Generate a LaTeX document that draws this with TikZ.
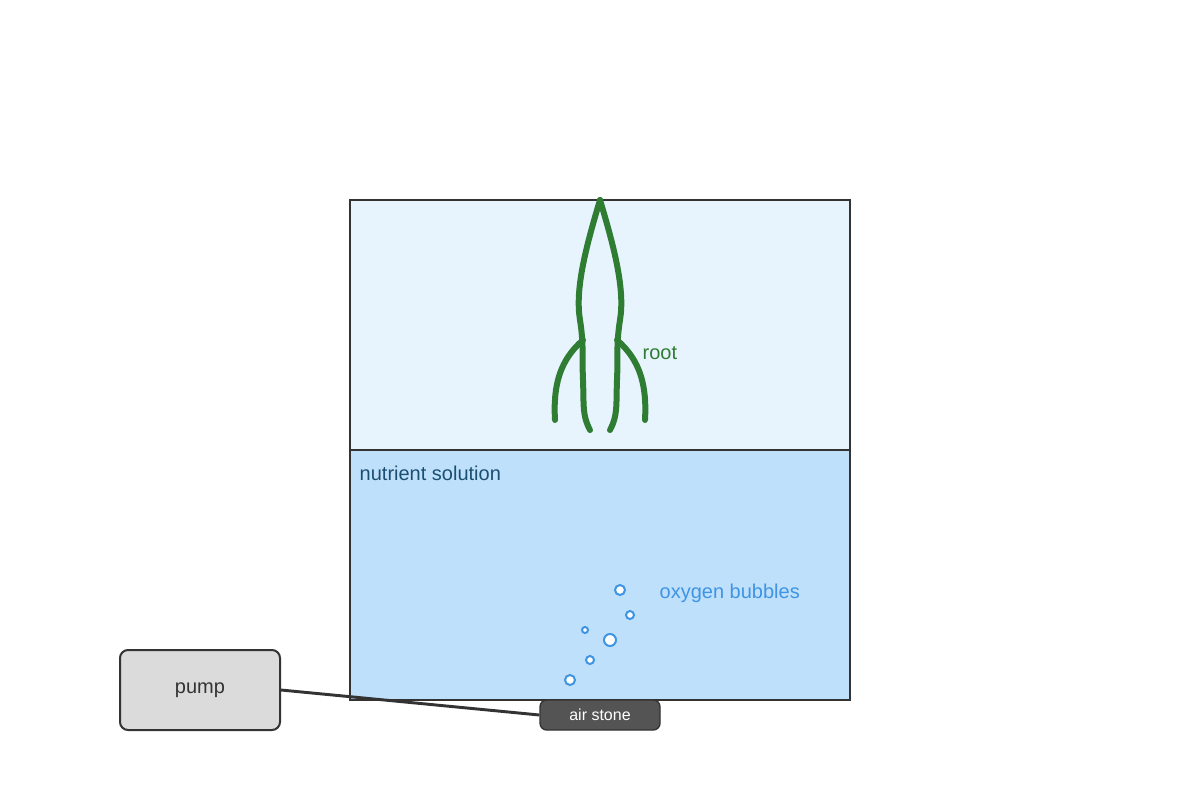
\documentclass[tikz,border=0pt]{standalone}
\usepackage{fontspec}
\setmainfont{Liberation Sans}
\begin{document}
\begin{tikzpicture}[x=0.75pt,y=-0.75pt,
  root/.style={draw=rootc,line width=4.5pt,line cap=round},
  bub/.style={draw=bubc,fill=white,line width=1.5pt},
  box/.style={draw=dark,line width=1.5pt,rounded corners=6pt,inner sep=0pt}]
\definecolor{upper}{HTML}{E8F4FD}
\definecolor{lower}{HTML}{BEE0FB}
\definecolor{dark}{HTML}{333333}
\definecolor{rootc}{HTML}{2E7D32}
\definecolor{bubc}{HTML}{3F94E4}
\definecolor{navy}{HTML}{1B4F72}
\useasboundingbox (0,0) rectangle (1200,800);
\fill[upper] (350,200) rectangle (850,450);
\fill[lower] (350,450) rectangle (850,700);
\draw[dark,line width=0.8pt] (350,450) rectangle (850,700);
\draw[dark,line width=1.6pt] (350,450) -- (350,200) -- (850,200) -- (850,450);
\draw[dark,dashed,line width=0.8pt] (350,450) -- (850,450);
% roots
\draw[root] (600,200) .. controls (585,250) and (575,290) .. (580,320) .. controls (584,345) and (582,360) .. (583,380) .. controls (584,405) and (582,415) .. (590,430);
\draw[root] (600,200) .. controls (615,250) and (625,290) .. (620,320) .. controls (616,345) and (618,360) .. (617,380) .. controls (616,405) and (618,415) .. (610,430);
\draw[root] (583,340) .. controls (560,360) and (553,385) .. (555,420);
\draw[root] (617,340) .. controls (640,360) and (647,385) .. (645,420);
\node[text=rootc,font=\fontsize{15}{18}\selectfont,anchor=west] (rootlab) at (638,353) {root};
\node[text=navy,font=\fontsize{15}{18}\selectfont,anchor=west] (nut) at (355,473) {nutrient solution};
% bubbles
\foreach \x/\y/\r [count=\i] in {620/590/5,630/615/4,585/630/3,610/640/6,590/660/4,570/680/5}
  \draw[bub] (\x,\y) circle (\r);
\node[text=bubc,font=\fontsize{15}{18}\selectfont,anchor=west] (oxy) at (655,593) {oxygen bubbles};
% pump and stone
\node[box,fill=black!14,minimum width=120pt,minimum height=60pt,font=\fontsize{15}{18}\selectfont,text=dark] (pump) at (200,690) {pump};
\node[draw=dark,line width=1pt,rounded corners=5pt,fill=black!67,minimum width=90pt,minimum height=22.5pt,font=\fontsize{12}{14}\selectfont,text=white] (stone) at (600,715) {air stone};
\draw[dark,line width=2.2pt] (pump.east) -- (stone.west);
\end{tikzpicture}
\end{document}
